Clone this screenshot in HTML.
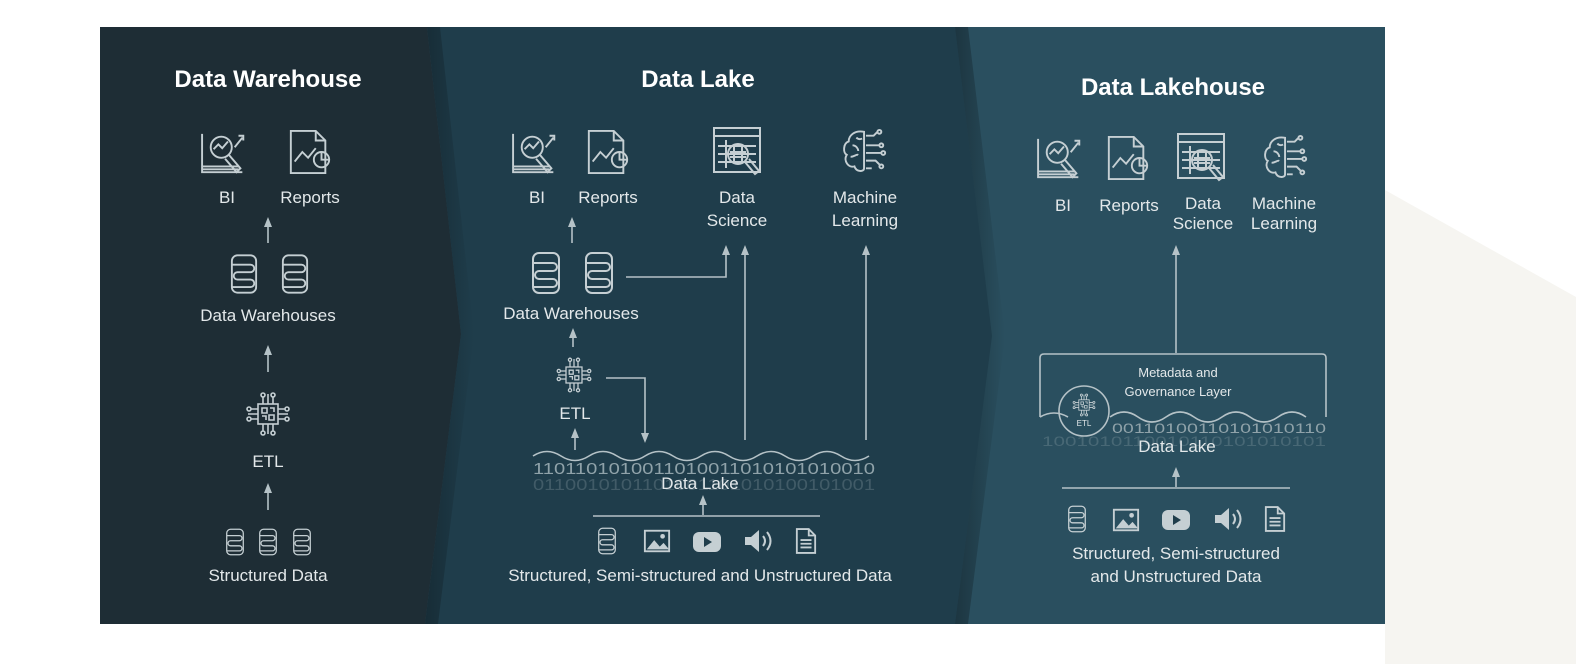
<!DOCTYPE html>
<html><head><meta charset="utf-8"><style>
html,body{margin:0;padding:0;background:#fff;width:1576px;height:664px;overflow:hidden}
text{font-family:"Liberation Sans",sans-serif;fill:#e3e8ea;text-anchor:middle}
.t{font-weight:bold;font-size:24px;fill:#fff}
.l{font-size:17px}
.s{font-size:13px}
.bin{font-size:16px;fill:#8fa2a9}
</style></head><body>
<svg width="1576" height="664" viewBox="0 0 1576 664" xmlns="http://www.w3.org/2000/svg">
<defs>
<marker id="ah" markerUnits="userSpaceOnUse" markerWidth="10" markerHeight="10" refX="5" refY="5" orient="auto"><path d="M0,1 L10,5 L0,9 Z" fill="#b5c2c7"/></marker>
<linearGradient id="sh" x1="0" x2="1" y1="0" y2="0"><stop offset="0" stop-color="#0f1c22" stop-opacity=".5"/><stop offset="1" stop-color="#0f1c22" stop-opacity="0"/></linearGradient>
<symbol id="db" viewBox="0 0 30 44"><g fill="none" stroke="#c5cfd3" stroke-width="2"><rect x="2" y="2" width="26" height="40" rx="6"/><path d="M2 12 H22 a4 4 0 0 1 0 8 H8 a4 4 0 0 0 0 8 H22 a4 4 0 0 1 0 8 H2"/></g></symbol>
<symbol id="bi" viewBox="0 0 56 48"><g fill="none" stroke="#c5cfd3" stroke-width="2"><path d="M2 4 V44 H44"/><path d="M2 38 H40 M2 41 H40"/><circle cx="22" cy="18" r="11"/><path d="M14 20 l5-5 4 4 6-7"/><path d="M30 26 l12 14 -4 4 -12-14"/><path d="M36 18 l8-10 M40 6 h5 v5"/></g></symbol>
<symbol id="rep" viewBox="0 0 48 48"><g fill="none" stroke="#c5cfd3" stroke-width="2"><path d="M4 2 H30 L40 12 V46 H4 Z"/><path d="M30 2 V12 H40"/><path d="M8 34 l8-10 6 6 8-10"/><circle cx="36" cy="32" r="8"/><path d="M36 24 V32 H44"/></g></symbol>
<symbol id="ds" viewBox="0 0 56 56"><g fill="none" stroke="#c5cfd3" stroke-width="2"><rect x="2" y="2" width="46" height="44"/><path d="M2 10 H48"/><path d="M6 20 H44 M6 28 H44 M6 36 H44 M14 14 V42"/><circle cx="26" cy="28" r="10"/><path d="M22 20 V36 M30 20 V36 M18 26 H34 M18 31 H34"/><path d="M33 36 l10 12 4-3 -10-12"/></g></symbol>
<symbol id="ml" viewBox="0 0 50 50"><g fill="none" stroke="#c5cfd3" stroke-width="2"><path d="M24 4 C14 2 8 8 8 14 C2 16 2 26 6 28 C2 34 8 42 14 40 C16 46 24 46 24 42 Z"/><path d="M12 18 c4 0 6 4 6 6 M10 30 c4 0 6-3 8-2 M16 10 c2 2 4 2 6 1"/><path d="M26 8 h8 l4-4 M26 18 h14 M26 26 h16 M26 34 h10 l4 4 M26 42 h6"/><circle cx="40" cy="4" r="2"/><circle cx="42" cy="18" r="2"/><circle cx="44" cy="26" r="2"/><circle cx="42" cy="40" r="2"/></g></symbol>
<symbol id="etl" viewBox="0 0 50 50"><g fill="none" stroke="#c5cfd3" stroke-width="1.6"><rect x="15" y="15" width="20" height="20"/><path d="M19 19 h5 v5 h-5z M27 19 h4 v4 M19 27 h4 v4 M26 26 h5 v5 h-5z"/><path d="M20 15 V8 M25 15 V5 M30 15 V8 M20 35 V42 M25 35 V45 M30 35 V42 M15 20 H8 M15 25 H5 M15 30 H8 M35 20 H42 M35 25 H45 M35 30 H42"/><circle cx="20" cy="6" r="2"/><circle cx="30" cy="6" r="2"/><circle cx="20" cy="44" r="2"/><circle cx="30" cy="44" r="2"/><circle cx="6" cy="20" r="2"/><circle cx="6" cy="30" r="2"/><circle cx="44" cy="20" r="2"/><circle cx="44" cy="30" r="2"/></g></symbol>
<symbol id="img" viewBox="0 0 30 26"><rect x="2" y="2" width="26" height="22" fill="none" stroke="#c5cfd3" stroke-width="2"/><path d="M4 22 l8-10 6 7 4-4 6 7Z" fill="#c5cfd3"/><circle cx="21" cy="8" r="2.5" fill="#c5cfd3"/></symbol>
<symbol id="yt" viewBox="0 0 30 22"><rect x="1" y="1" width="28" height="20" rx="6" fill="#c5cfd3"/><path d="M12 6 L20 11 L12 16Z" fill="#1f3d4b"/></symbol>
<symbol id="snd" viewBox="0 0 30 26"><path d="M2 9 H8 L16 2 V24 L8 17 H2Z" fill="#c5cfd3"/><path d="M20 8 q4 5 0 10 M24 4 q7 9 0 18" fill="none" stroke="#c5cfd3" stroke-width="2"/></symbol>
<symbol id="doc" viewBox="0 0 24 30"><g fill="none" stroke="#c5cfd3" stroke-width="2"><path d="M2 2 H15 L22 9 V28 H2Z M15 2 V9 H22"/><path d="M6 14 H18 M6 18 H18 M6 22 H18"/></g></symbol>
</defs>

<polygon points="1385,190 1576,297 1576,664 1385,664" fill="#f6f5f1"/>
<rect x="100" y="27" width="1285" height="597" fill="#2a4f5f"/>
<polygon points="427,27 955,27 992,336 955,624 425,624 461,334" fill="#1f3d4b"/>
<polygon points="955,27 968,27 1005,336 968,624 955,624 992,336" fill="url(#sh)"/>
<polygon points="427,27 440,27 474,334 438,624 425,624 461,334" fill="url(#sh)"/>
<polygon points="100,27 427,27 461,334 425,624 100,624" fill="#1e2d35"/>

<g stroke="#b5c2c7" stroke-width="1.6" fill="none">
<line x1="268" y1="243" x2="268" y2="222" marker-end="url(#ah)"/>
<line x1="268" y1="372" x2="268" y2="350" marker-end="url(#ah)"/>
<line x1="268" y1="510" x2="268" y2="488" marker-end="url(#ah)"/>
<line x1="572" y1="243" x2="572" y2="222" marker-end="url(#ah)"/>
<polyline points="626,277 726,277 726,250" marker-end="url(#ah)"/>
<line x1="745" y1="440" x2="745" y2="250" marker-end="url(#ah)"/>
<line x1="866" y1="440" x2="866" y2="250" marker-end="url(#ah)"/>
<line x1="573" y1="347" x2="573" y2="333" marker-end="url(#ah)"/>
<line x1="575" y1="450" x2="575" y2="433" marker-end="url(#ah)"/>
<polyline points="606,378 645,378 645,438" marker-end="url(#ah)"/>
<line x1="703" y1="515" x2="703" y2="500" marker-end="url(#ah)"/>
<line x1="593" y1="516" x2="820" y2="516"/>
<path d="M533 456 q14 -9 28 0 t28 0 t28 0 t28 0 t28 0 t28 0 t28 0 t28 0 t28 0 t28 0 t28 0 t28 0"/>
<line x1="1176" y1="353" x2="1176" y2="250" marker-end="url(#ah)"/>
<path d="M1040 417 V358 q0-4 4-4 H1322 q4 0 4 4 V417"/>
<path d="M1040 417 q14 -8 28 0 M1110 417 q14 -10 28 0 t28 0 t28 0 t28 0 t28 0 t28 0 t28 0"/>
<circle cx="1084" cy="411" r="25"/>
<line x1="1176" y1="487" x2="1176" y2="472" marker-end="url(#ah)"/>
<line x1="1062" y1="488" x2="1290" y2="488"/>
</g>

<text class="bin" x="533" y="474" style="text-anchor:start" textLength="342" lengthAdjust="spacingAndGlyphs">1101101010011010011010101010010</text>
<text class="bin" x="533" y="490" opacity=".3" style="text-anchor:start" textLength="342" lengthAdjust="spacingAndGlyphs">0110010101101001101010100101001</text>
<text class="bin" x="1112" y="433" style="text-anchor:start;font-size:14px" textLength="214" lengthAdjust="spacingAndGlyphs">00110100110101010110</text>
<text class="bin" x="1042" y="446" opacity=".3" style="text-anchor:start;font-size:14px" textLength="284" lengthAdjust="spacingAndGlyphs">1001010110010110101010101</text>

<text class="t" x="268" y="87">Data Warehouse</text>
<use href="#bi" x="200" y="130" width="54" height="46"/>
<use href="#rep" x="287" y="128" width="46" height="48"/>
<text class="l" x="227" y="203">BI</text>
<text class="l" x="310" y="203">Reports</text>
<use href="#db" x="230" y="253" width="28" height="42"/>
<use href="#db" x="281" y="253" width="28" height="42"/>
<text class="l" x="268" y="321">Data Warehouses</text>
<use href="#etl" x="243" y="389" width="50" height="50"/>
<text class="l" x="268" y="467">ETL</text>
<use href="#db" x="225" y="528" width="20" height="28"/>
<use href="#db" x="258" y="528" width="20" height="28"/>
<use href="#db" x="292" y="528" width="20" height="28"/>
<text class="l" x="268" y="581">Structured Data</text>

<text class="t" x="698" y="87">Data Lake</text>
<use href="#bi" x="511" y="130" width="54" height="46"/>
<use href="#rep" x="585" y="128" width="46" height="48"/>
<use href="#ds" x="712" y="126" width="56" height="56"/>
<use href="#ml" x="840" y="128" width="50" height="48"/>
<text class="l" x="537" y="203">BI</text>
<text class="l" x="608" y="203">Reports</text>
<text class="l" x="737" y="203">Data</text>
<text class="l" x="737" y="226">Science</text>
<text class="l" x="865" y="203">Machine</text>
<text class="l" x="865" y="226">Learning</text>
<use href="#db" x="531" y="251" width="30" height="44"/>
<use href="#db" x="584" y="251" width="30" height="44"/>
<text class="l" x="571" y="319">Data Warehouses</text>
<use href="#etl" x="554" y="355" width="40" height="40"/>
<text class="l" x="575" y="419">ETL</text>
<text class="l" x="700" y="489">Data Lake</text>
<use href="#db" x="597" y="527" width="20" height="28"/>
<use href="#img" x="643" y="528" width="28" height="26"/>
<use href="#yt" x="692" y="531" width="30" height="22"/>
<use href="#snd" x="743" y="528" width="30" height="26"/>
<use href="#doc" x="795" y="527" width="22" height="28"/>
<text class="l" x="700" y="581">Structured, Semi-structured and Unstructured Data</text>

<text class="t" x="1173" y="95">Data Lakehouse</text>
<use href="#bi" x="1036" y="135" width="54" height="46"/>
<use href="#rep" x="1105" y="134" width="46" height="48"/>
<use href="#ds" x="1176" y="132" width="56" height="56"/>
<use href="#ml" x="1261" y="134" width="50" height="48"/>
<text class="l" x="1063" y="211">BI</text>
<text class="l" x="1129" y="211">Reports</text>
<text class="l" x="1203" y="209">Data</text>
<text class="l" x="1203" y="229">Science</text>
<text class="l" x="1284" y="209">Machine</text>
<text class="l" x="1284" y="229">Learning</text>
<text class="s" x="1178" y="377">Metadata and</text>
<text class="s" x="1178" y="396">Governance Layer</text>
<use href="#etl" x="1071" y="392" width="26" height="26"/>
<text x="1084" y="426" style="font-size:8px">ETL</text>
<text class="l" x="1177" y="452">Data Lake</text>
<use href="#db" x="1067" y="505" width="20" height="28"/>
<use href="#img" x="1112" y="507" width="28" height="26"/>
<use href="#yt" x="1161" y="509" width="30" height="22"/>
<use href="#snd" x="1213" y="506" width="30" height="26"/>
<use href="#doc" x="1264" y="505" width="22" height="28"/>
<text class="l" x="1176" y="559">Structured, Semi-structured</text>
<text class="l" x="1176" y="582">and Unstructured Data</text>
</svg>
</body></html>
